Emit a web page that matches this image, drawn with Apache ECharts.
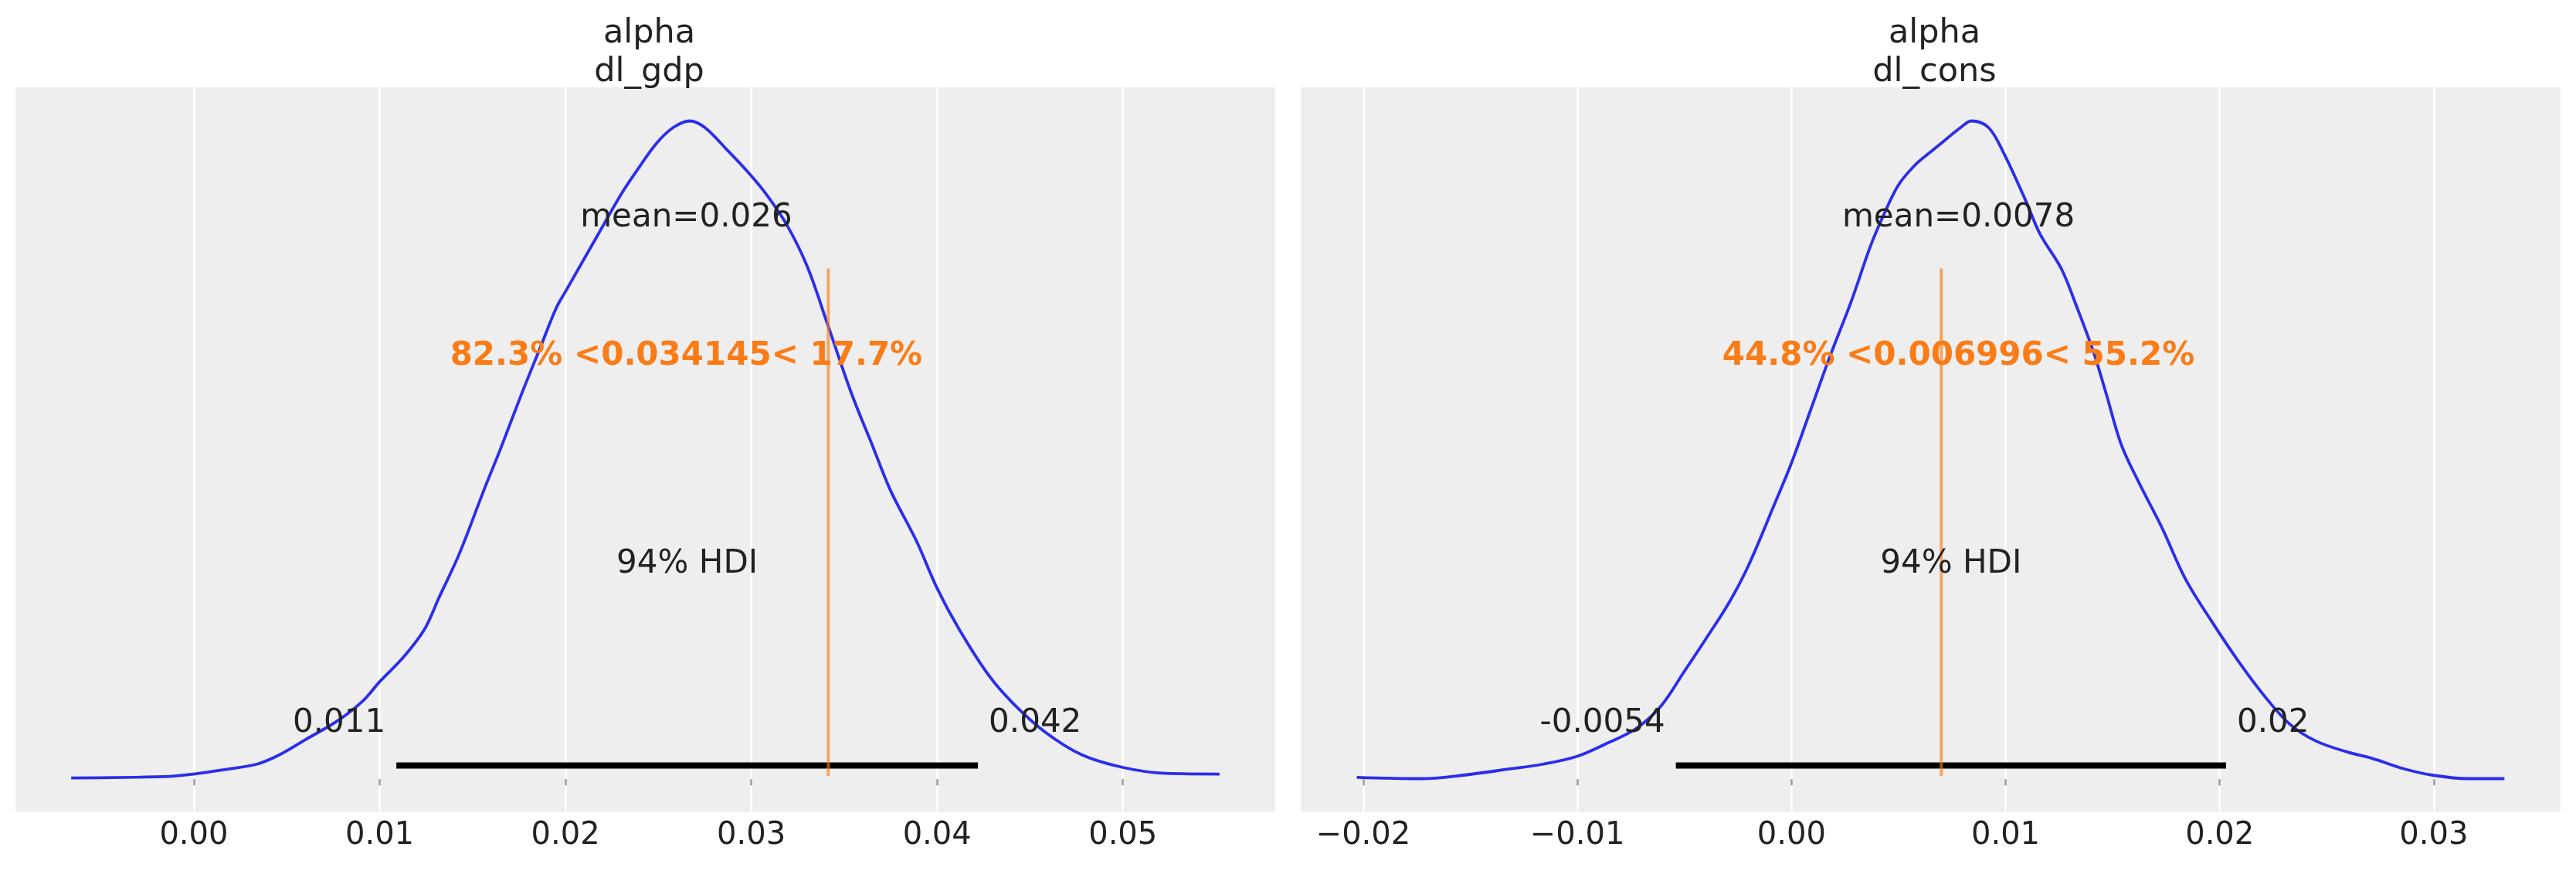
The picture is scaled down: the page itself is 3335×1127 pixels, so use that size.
<!DOCTYPE html>
<html>
<head>
<meta charset="utf-8">
<script src="https://cdn.jsdelivr.net/npm/echarts@6/dist/echarts.min.js"></script>
<style>
  html, body { margin: 0; padding: 0; background: #fff; }
  #chart { width: 3335px; height: 1127px; }
</style>
</head>
<body>
<div id="chart"></div>
<script>
// posterior density (relative, peak = 1)
const gdpX = [-0.0066, -0.0016, 0.0, 0.0017, 0.0034, 0.0046, 0.0060, 0.0078, 0.0091, 0.0100, 0.0113, 0.0124, 0.0132, 0.0143, 0.0156, 0.0165, 0.0176, 0.0187, 0.0195, 0.0200, 0.0217, 0.0230, 0.0239, 0.0249, 0.0258, 0.0267, 0.0275, 0.0286, 0.0299, 0.0308, 0.0319, 0.0330, 0.0341, 0.0354, 0.0365, 0.0375, 0.0389, 0.0400, 0.0412, 0.0428, 0.0441, 0.0458, 0.0478, 0.0500, 0.0523, 0.0552];
const gdpY = [0.002, 0.004, 0.008, 0.015, 0.023, 0.037, 0.060, 0.090, 0.119, 0.148, 0.186, 0.227, 0.276, 0.343, 0.438, 0.501, 0.582, 0.659, 0.715, 0.740, 0.824, 0.888, 0.926, 0.965, 0.989, 0.999, 0.989, 0.958, 0.919, 0.888, 0.842, 0.779, 0.691, 0.585, 0.508, 0.438, 0.361, 0.290, 0.227, 0.157, 0.115, 0.072, 0.037, 0.018, 0.009, 0.008];

const consX = [-0.0203, -0.0173, -0.0154, -0.0131, -0.0116, -0.0100, -0.0086, -0.0073, -0.0061, -0.0050, -0.0040, -0.0029, -0.0020, -0.0008, 0.0000, 0.0009, 0.0018, 0.0028, 0.0037, 0.0043, 0.0050, 0.0058, 0.0065, 0.0071, 0.0079, 0.0084, 0.0092, 0.0099, 0.0109, 0.0116, 0.0126, 0.0133, 0.0141, 0.0147, 0.0154, 0.0162, 0.0173, 0.0184, 0.0196, 0.0209, 0.0222, 0.0233, 0.0245, 0.0260, 0.0271, 0.0286, 0.0300, 0.0316, 0.0333];
const consY = [0.003, 0.001, 0.006, 0.016, 0.023, 0.035, 0.055, 0.076, 0.111, 0.164, 0.213, 0.269, 0.325, 0.417, 0.480, 0.561, 0.642, 0.726, 0.810, 0.856, 0.902, 0.933, 0.952, 0.968, 0.989, 0.999, 0.989, 0.951, 0.881, 0.828, 0.775, 0.719, 0.649, 0.585, 0.508, 0.452, 0.382, 0.304, 0.241, 0.178, 0.122, 0.083, 0.058, 0.041, 0.032, 0.016, 0.006, 0.001, 0.001];

const titles = ['alpha\ndl_gdp', 'alpha\ndl_cons'];
const means = [0.0265, 0.0078];
const meanLabels = ['mean=0.026', 'mean=0.0078'];
const hdis = [[0.0109, 0.0422], [-0.0054, 0.0203]];
const hdiLabels = [['0.011', '0.042'], ['-0.0054', '0.02']];
const refVals = [0.034145, 0.006996];
const refLabels = ['82.3% <0.034145< 17.7%', '44.8% <0.006996< 55.2%'];

const gdpTicks = [0, 0.01, 0.02, 0.03, 0.04, 0.05];
const gdpTickLabels = ['0.00', '0.01', '0.02', '0.03', '0.04', '0.05'];
const consTicks = [-0.02, -0.01, 0, 0.01, 0.02, 0.03];
const consTickLabels = ['\u22120.02', '\u22120.01', '0.00', '0.01', '0.02', '0.03'];

const xRanges = [[-0.0096, 0.0582], [-0.02292, 0.03592]];

const FONT = 'DejaVu Sans';
const textCol = '#222222';
const blue = '#2a2eec';
const orange = '#fa7c17';
const plotH = 1.05;  // top of the y range, arviz places texts relative to it

let chart = echarts.init(document.getElementById('chart'));

let grids = [
  { left: 20, top: 113, width: 1631, height: 938 },
  { left: 1684, top: 113, width: 1631, height: 938 }
];

let ticks = [gdpTicks, consTicks];
let tickLabels = [gdpTickLabels, consTickLabels];
let kde = [[gdpX, gdpY], [consX, consY]];

let xAxes = [], yAxes = [], series = [], titleList = [];

for (let i = 0; i < 2; i++) {
  titleList.push({
    text: titles[i],
    left: grids[i].left + grids[i].width / 2,
    top: 14,
    textAlign: 'center',
    textStyle: { fontFamily: FONT, fontSize: 43, fontWeight: 'normal', color: textCol, lineHeight: 50 }
  });
  const lbls = tickLabels[i], tv = ticks[i];
  xAxes.push({
    type: 'value',
    gridIndex: i,
    min: xRanges[i][0],
    max: xRanges[i][1],
    axisLine: { show: false },
    axisTick: { show: true, customValues: tv, length: 8, lineStyle: { color: '#9a9a9a', width: 2.5 } },
    axisLabel: {
      customValues: tv,
      margin: 11,
      fontFamily: FONT, fontSize: 40, color: textCol,
      formatter: v => lbls[tv.findIndex(t => Math.abs(t - v) < 1e-9)]
    },
    splitLine: { show: true, lineStyle: { color: '#ffffff', width: 2.5 } }
  });
  yAxes.push({ type: 'value', gridIndex: i, min: -0.05, max: 1.05, show: false });

  let [xs, ys] = kde[i];
  series.push({
    type: 'line', xAxisIndex: i, yAxisIndex: i,
    data: xs.map((x, k) => [x, ys[k]]),
    showSymbol: false, smooth: 0.35,
    lineStyle: { color: blue, width: 3.8 }, silent: true, z: 3
  });
  // hdi bar
  series.push({
    type: 'line', xAxisIndex: i, yAxisIndex: i,
    data: [[hdis[i][0], 0.02 * plotH], [hdis[i][1], 0.02 * plotH]],
    showSymbol: false, lineStyle: { color: '#000', width: 8, cap: 'butt' }, silent: true, z: 4
  });
  // reference line, from 5% to 75% of the axes height
  series.push({
    type: 'line', xAxisIndex: i, yAxisIndex: i,
    data: [[refVals[i], -0.05 + 0.05 * 1.1], [refVals[i], -0.05 + 0.75 * 1.1]],
    showSymbol: false, lineStyle: { color: 'rgba(250,124,23,0.65)', width: 4 }, silent: true, z: 5
  });
  // texts
  const base = { fontFamily: FONT, fontSize: 42, color: textCol, verticalAlign: 'middle', lineHeight: 42, opacity: 1 };
  series.push({
    type: 'scatter', xAxisIndex: i, yAxisIndex: i, symbolSize: 0, silent: true, z: 6,
    itemStyle: { opacity: 1 },
    label: { show: true, position: 'inside' },
    data: [
      { value: [means[i], 0.8 * plotH], label: Object.assign({}, base, { formatter: meanLabels[i], align: 'center', offset: [0, -10] }) },
      { value: [means[i], 0.6 * plotH], label: Object.assign({}, base, { formatter: refLabels[i], align: 'center', offset: [0, -10], color: orange, fontWeight: 'bold' }) },
      { value: [(hdis[i][0] + hdis[i][1]) / 2, 0.3 * plotH], label: Object.assign({}, base, { formatter: '94% HDI', align: 'center', offset: [0, -10] }) },
      { value: [hdis[i][0], 0.07 * plotH], label: Object.assign({}, base, { formatter: hdiLabels[i][0], align: 'right', offset: [-14, -10] }) },
      { value: [hdis[i][1], 0.07 * plotH], label: Object.assign({}, base, { formatter: hdiLabels[i][1], align: 'left', offset: [14, -10] }) }
    ]
  });
}

chart.setOption({
  backgroundColor: '#ffffff',
  animation: false,
  title: titleList,
  grid: grids.map(g => Object.assign({ show: true, backgroundColor: '#eeeeee', borderWidth: 0 }, g)),
  xAxis: xAxes,
  yAxis: yAxes,
  series: series
});
</script>
</body>
</html>
